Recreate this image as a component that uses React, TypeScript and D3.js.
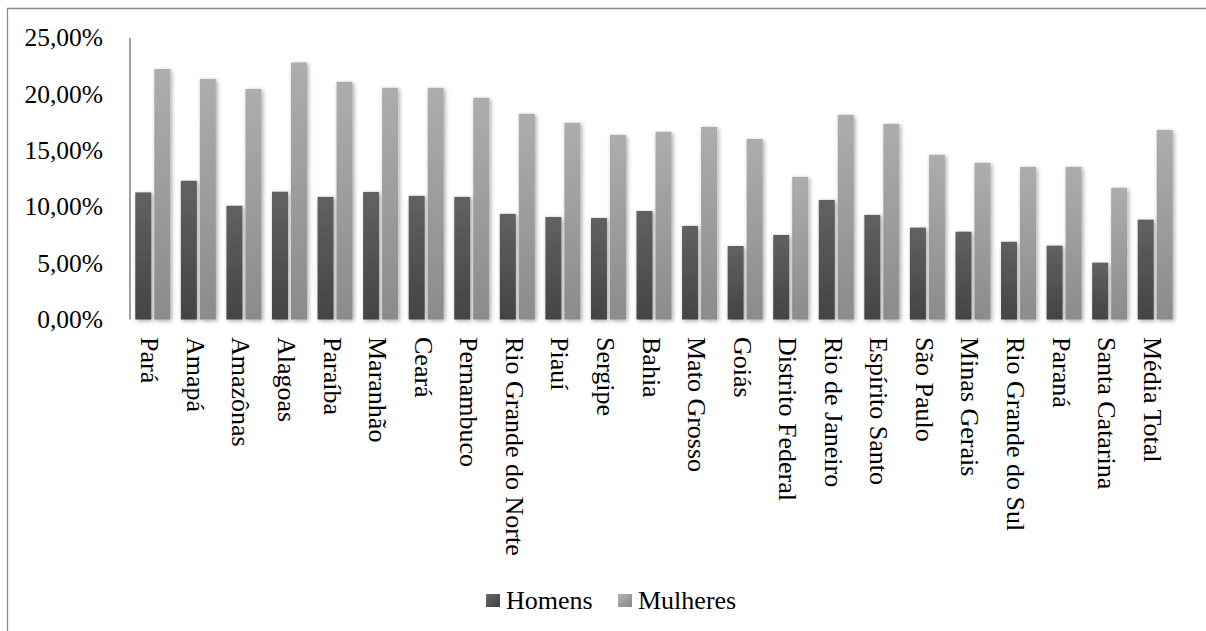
import * as d3 from 'd3';

// Categories and values (percent)
const categories = [
  'Pará', 'Amapá', 'Amazônas', 'Alagoas', 'Paraíba', 'Maranhão', 'Ceará',
  'Pernambuco', 'Rio Grande do Norte', 'Piauí', 'Sergipe', 'Bahia',
  'Mato Grosso', 'Goiás', 'Distrito Federal', 'Rio de Janeiro',
  'Espírito Santo', 'São Paulo', 'Minas Gerais', 'Rio Grande do Sul',
  'Paraná', 'Santa Catarina', 'Média Total',
];
const homens = [
  11.29, 12.32, 10.1, 11.35, 10.89, 11.33, 10.98, 10.89, 9.38, 9.11, 9.02,
  9.64, 8.31, 6.53, 7.51, 10.62, 9.29, 8.16, 7.8, 6.9, 6.56, 5.05, 8.87,
];
const mulheres = [
  22.25, 21.37, 20.48, 22.83, 21.11, 20.58, 20.58, 19.69, 18.27, 17.47, 16.4,
  16.67, 17.11, 16.04, 12.67, 18.18, 17.38, 14.63, 13.92, 13.56, 13.56, 11.7,
  16.84,
];
const seriesNames = ['Homens', 'Mulheres'];
const yTicks = [0, 5, 10, 15, 20, 25];

const W = 1206;
const H = 631;
const plot = { left: 130, right: 1178, top: 38, bottom: 319.5 };
const font = '"Liberation Serif", "Times New Roman", serif';

export default function App() {
  const x0 = d3
    .scaleBand<string>()
    .domain(categories)
    .range([plot.left, plot.right])
    .paddingInner(0.232)
    .paddingOuter(0.116);

  const x1 = d3
    .scaleBand<string>()
    .domain(seriesNames)
    .range([0, x0.bandwidth()])
    .paddingInner(0.158);

  const y = d3.scaleLinear().domain([0, 25]).range([plot.bottom, plot.top]);

  const fmt = (v: number) => v.toFixed(2).replace('.', ',') + '%';

  const grads = ['gradH', 'gradM'];

  return (
    <div style={{ position: 'absolute', left: 0, top: 0 }}>
      <svg width={W} height={H} style={{ display: 'block', background: '#fff' }}>
        <defs>
          <linearGradient id="gradH" x1="0" y1="0" x2="0" y2="1">
            <stop offset="0%" stopColor="#616161" />
            <stop offset="100%" stopColor="#444444" />
          </linearGradient>
          <linearGradient id="gradM" x1="0" y1="0" x2="0" y2="1">
            <stop offset="0%" stopColor="#adadad" />
            <stop offset="100%" stopColor="#8b8b8b" />
          </linearGradient>
          <linearGradient id="legH" x1="0" y1="0" x2="1" y2="1">
            <stop offset="0%" stopColor="#6a6a6a" />
            <stop offset="100%" stopColor="#3f3f3f" />
          </linearGradient>
          <linearGradient id="legM" x1="0" y1="0" x2="1" y2="1">
            <stop offset="0%" stopColor="#b5b5b5" />
            <stop offset="100%" stopColor="#858585" />
          </linearGradient>
          <filter id="shadow" x="-30%" y="-10%" width="170%" height="130%">
            <feDropShadow dx="1.5" dy="1.5" stdDeviation="2" floodColor="#000" floodOpacity="0.35" />
          </filter>
          <filter id="lineShadow" x="-5%" y="-200%" width="110%" height="500%">
            <feDropShadow dx="0" dy="1.5" stdDeviation="1.2" floodColor="#000" floodOpacity="0.3" />
          </filter>
        </defs>

        {/* outer chart frame (cropped on right and bottom) */}
        <line x1={7.5} x2={7.5} y1={8} y2={H} stroke="#8c8c8c" strokeWidth={1.3} />
        <line x1={7} x2={W} y1={8.5} y2={8.5} stroke="#8c8c8c" strokeWidth={1.3} />

        {/* gridlines */}
        {yTicks.map((t) => (
          <line
            key={t}
            x1={plot.left}
            x2={plot.right}
            y1={y(t)}
            y2={y(t)}
            stroke="#878787"
            strokeWidth={1.6}
            filter="url(#lineShadow)"
          />
        ))}
        {/* y axis line */}
        <line x1={plot.left} x2={plot.left} y1={plot.top} y2={plot.bottom} stroke="#878787" strokeWidth={1.6} />

        {/* y tick labels */}
        {yTicks.map((t) => (
          <text
            key={t}
            x={103}
            y={y(t)}
            dy="0.33em"
            textAnchor="end"
            fontFamily={font}
            fontSize={25.5}
            fill="#000"
          >
            {fmt(t)}
          </text>
        ))}

        {/* bars */}
        {categories.map((c, i) => {
          const vals = [homens[i], mulheres[i]];
          return (
            <g key={c} transform={`translate(${x0(c)},0)`}>
              {seriesNames.map((s, j) => (
                <rect
                  key={s}
                  x={x1(s)}
                  y={y(vals[j])}
                  width={x1.bandwidth()}
                  height={y(0) - y(vals[j])}
                  fill={`url(#${grads[j]})`}
                  filter="url(#shadow)"
                />
              ))}
            </g>
          );
        })}

        {/* category labels, rotated */}
        {categories.map((c) => {
          const cx = (x0(c) ?? 0) + x0.bandwidth() / 2 - 3;
          const cy = 337;
          return (
            <text
              key={c}
              transform={`translate(${cx},${cy}) rotate(90)`}
              dominantBaseline="central"
              fontFamily={font}
              fontSize={26}
              fill="#000"
            >
              {c}
            </text>
          );
        })}

        {/* legend */}
        <g fontFamily={font} fontSize={26} fill="#000">
          <rect x={486} y={594} width={14} height={13} fill="url(#legH)" />
          <text x={506} y={609}>{seriesNames[0]}</text>
          <rect x={618} y={594} width={14} height={13} fill="url(#legM)" />
          <text x={638} y={609}>{seriesNames[1]}</text>
        </g>
      </svg>
    </div>
  );
}
